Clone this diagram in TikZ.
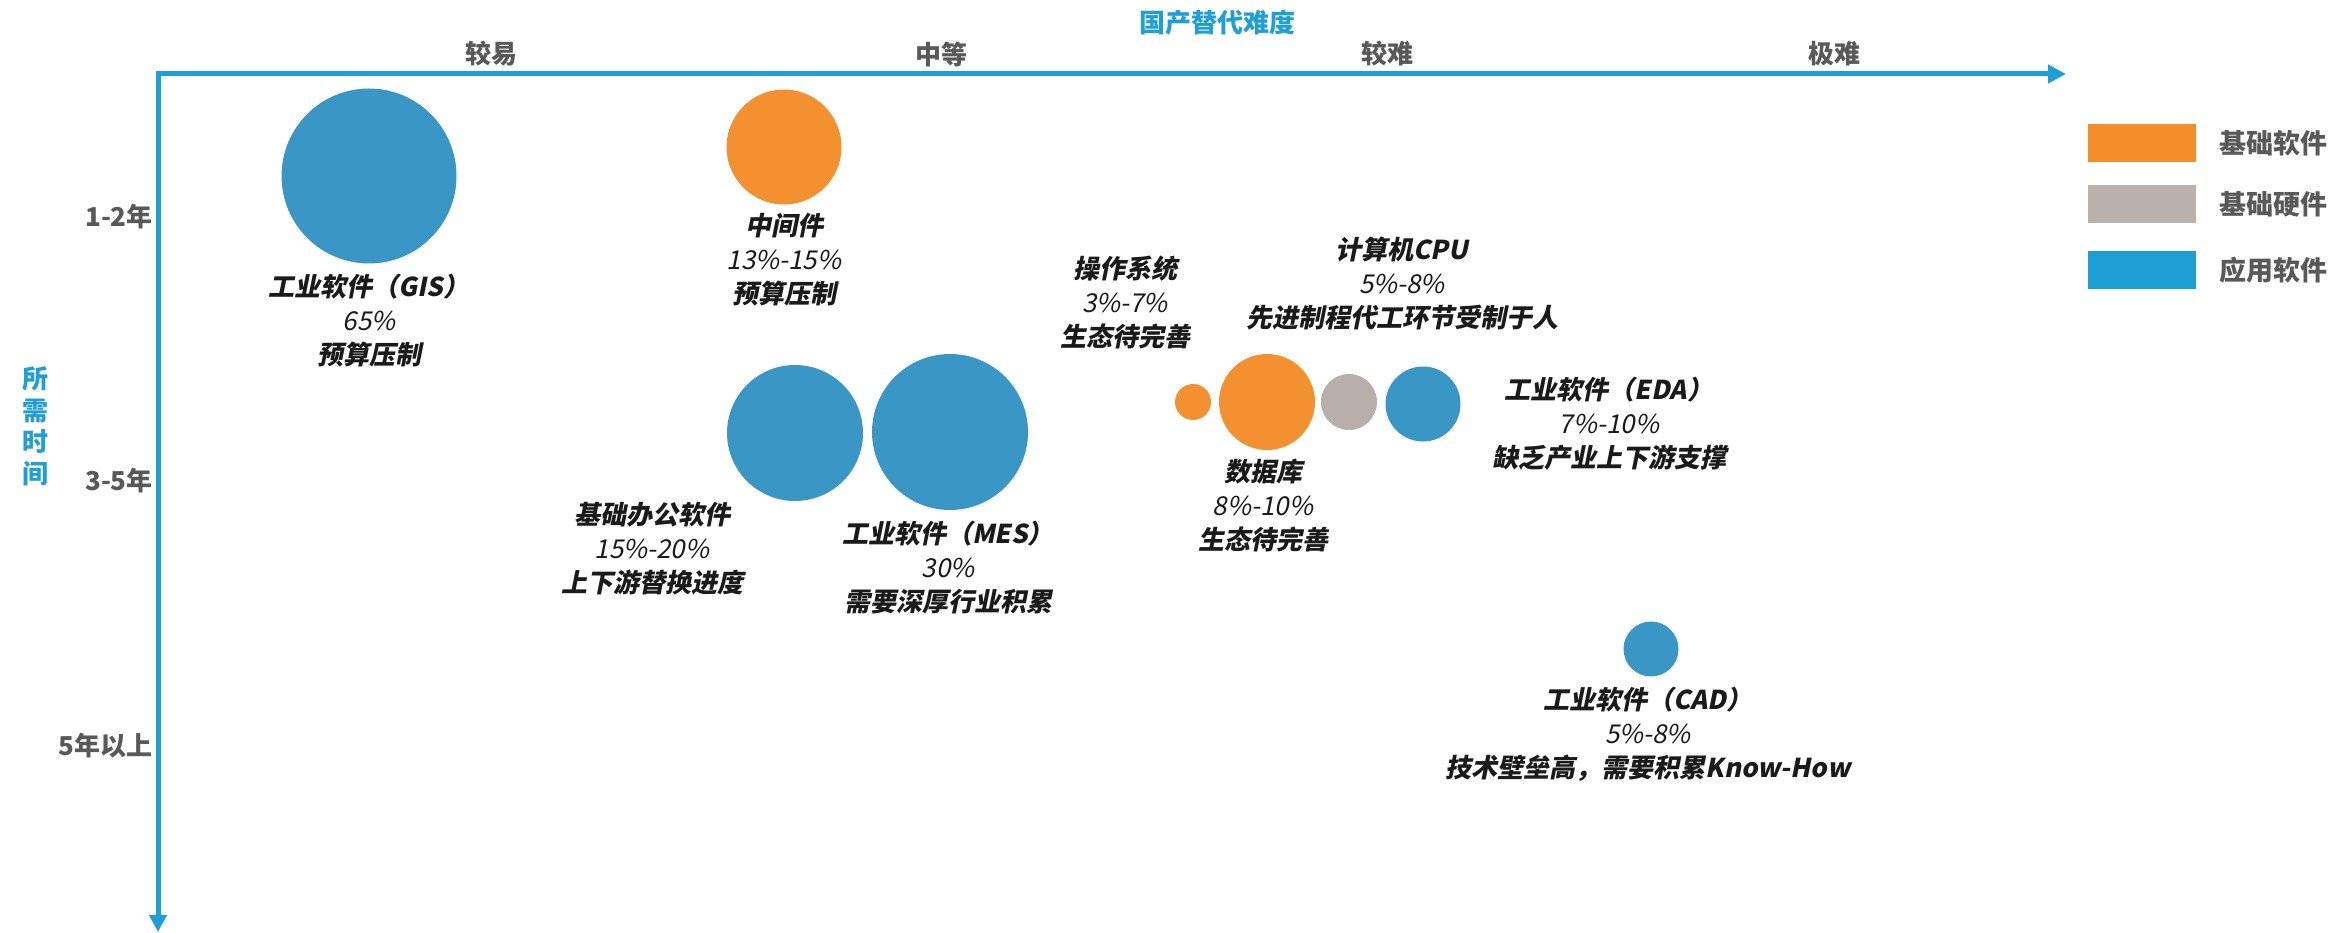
\documentclass[tikz,border=0pt]{standalone}
\usepackage{fontspec}
\usetikzlibrary{arrows.meta}
\newfontfamily\cjk{Noto Sans CJK SC}
\newfontfamily\cjkit[FakeSlant=0.2]{Noto Sans CJK SC}
\definecolor{axisblue}{HTML}{1F9FD5}
\definecolor{bubblue}{HTML}{3A96C4}
\definecolor{buborange}{HTML}{F39030}
\definecolor{bubgray}{HTML}{B8AFAB}
\definecolor{legorange}{HTML}{F58E28}
\definecolor{leggray}{HTML}{BAB0AC}
\definecolor{legblue}{HTML}{1E9FD4}
\definecolor{axtext}{HTML}{595959}
\definecolor{labtext}{HTML}{1A1A1A}
\tikzset{
  axisline/.style={line width=5pt, draw=axisblue, {Triangle[length=17pt,width=17pt]}-{Triangle[length=18pt,width=18pt]}},
  bubble/.style={circle, inner sep=0pt, draw=none, minimum size=#1},
  blab/.style={align=center, inner sep=0pt, text=labtext, font=\cjkit\fontsize{26}{34}\selectfont},
  collab/.style={inner sep=0pt, text=axtext, font=\cjk\bfseries\fontsize{26}{30}\selectfont},
  rowlab/.style={anchor=east, inner sep=0pt, text=axtext, font=\cjk\bfseries\fontsize{26}{30}\selectfont},
  titlelab/.style={inner sep=0pt, text=axisblue, font=\cjk\bfseries\fontsize{26}{31.5}\selectfont, align=center},
  legbox/.style={rectangle, inner sep=0pt, minimum width=108pt, minimum height=38pt},
  legtext/.style={anchor=west, inner sep=0pt, text=axtext, font=\cjk\bfseries\fontsize{27}{30}\selectfont}
}
\begin{document}
\begin{tikzpicture}[x=1pt,y=-1pt]
\useasboundingbox (0,0) rectangle (2331,933);
% axes
\coordinate (o) at (158,74);
\coordinate (xend) at (2066,74);
\coordinate (yend) at (158,932);
\draw[axisline] (yend) -- (o) -- (xend);
% titles
\node[titlelab] (xtitle) at (1217,23) {国产替代难度};
\node[titlelab] (ytitle) at (35,426) {所\\需\\时\\间};
% column labels
\node[collab] (c1) at (491,54) {较易};
\node[collab] (c2) at (941,54) {中等};
\node[collab] (c3) at (1387,54) {较难};
\node[collab] (c4) at (1834,54) {极难};
% row labels
\node[rowlab] (r1) at (153,217) {1-2年};
\node[rowlab] (r2) at (153,481) {3-5年};
\node[rowlab] (r3) at (153,746) {5年以上};
% bubbles
\node[bubble=175pt, fill=bubblue] (gis) at (369,176) {};
\node[bubble=115pt, fill=buborange] (mid) at (784,147) {};
\node[bubble=136pt, fill=bubblue] (office) at (795,433) {};
\node[bubble=156pt, fill=bubblue] (mes) at (950,432) {};
\node[bubble=36pt, fill=buborange] (os) at (1193,402) {};
\node[bubble=96pt, fill=buborange] (db) at (1267,402) {};
\node[bubble=56pt, fill=bubgray] (cpu) at (1349,402) {};
\node[bubble=75pt, fill=bubblue] (eda) at (1423,404) {};
\node[bubble=55pt, fill=bubblue] (cad) at (1651,649) {};
% bubble labels
\node[blab] (gisl) at (369,321) {\bfseries 工业软件（GIS）\\65\%\\\bfseries 预算压制};
\node[blab] (midl) at (784,260) {\bfseries 中间件\\13\%-15\%\\\bfseries 预算压制};
\node[blab] (osl) at (1125,302) {\bfseries 操作系统\\3\%-7\%\\\bfseries 生态待完善};
\node[blab] (cpul) at (1402,284) {\bfseries 计算机CPU\\5\%-8\%\\\bfseries 先进制程代工环节受制于人};
\node[blab] (edal) at (1609,424) {\bfseries 工业软件（EDA）\\7\%-10\%\\\bfseries 缺乏产业上下游支撑};
\node[blab] (dbl) at (1263,506) {\bfseries 数据库\\8\%-10\%\\\bfseries 生态待完善};
\node[blab] (officel) at (652,549) {\bfseries 基础办公软件\\15\%-20\%\\\bfseries 上下游替换进度};
\node[blab] (mesl) at (948,568) {\bfseries 工业软件（MES）\\30\%\\\bfseries 需要深厚行业积累};
\node[blab] (cadl) at (1648,734) {\bfseries 工业软件（CAD）\\5\%-8\%\\\bfseries 技术壁垒高，需要积累Know-How};
% legend
\node[legbox, fill=legorange] (lg1) at (2142,143) {};
\node[legbox, fill=leggray] (lg2) at (2142,204) {};
\node[legbox, fill=legblue] (lg3) at (2142,270) {};
\node[legtext] (lt1) at (2219,143) {基础软件};
\node[legtext] (lt2) at (2219,204) {基础硬件};
\node[legtext] (lt3) at (2219,270) {应用软件};
\end{tikzpicture}
\end{document}
